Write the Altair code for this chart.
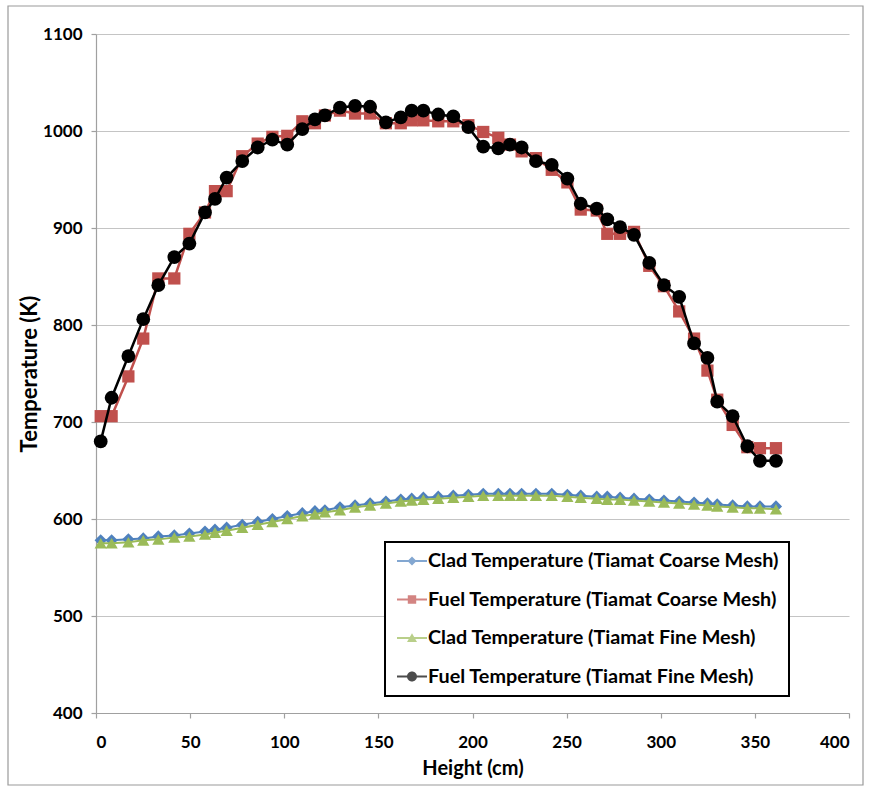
import altair as alt
import pandas as pd

heights = [2.5, 8.3, 17.2, 25.1, 33.1, 41.6, 49.6, 57.9, 63.2, 69.4,
           77.7, 85.9, 93.7, 101.6, 109.6, 116.3, 121.6, 129.6, 137.6, 145.6,
           154.0, 161.9, 167.7, 173.9, 181.8, 189.8, 197.8, 205.7, 213.7, 219.9,
           226.1, 233.7, 242.1, 250.4, 257.5, 266.0, 271.6, 278.4, 285.8, 293.9,
           301.7, 309.8, 317.7, 324.8, 330.0, 338.2, 346.0, 352.7, 361.2]

clad_coarse = [578, 578, 579, 580, 582, 583, 585, 587, 589, 591,
               594, 597, 600, 603, 606, 608, 609, 612, 614, 616,
               618, 620, 621, 622, 623, 624, 625, 626, 626, 626,
               626, 626, 626, 625, 624, 623, 623, 622, 621, 620,
               619, 618, 617, 616, 615, 614, 613, 613, 613]

fuel_coarse = [706, 706, 747, 786, 848, 848, 894, 916, 938, 938,
               974, 987, 994, 995, 1010, 1008, 1016, 1021, 1018, 1018,
               1008, 1008, 1011, 1011, 1010, 1010, 1006, 999, 993, 986,
               979, 972, 960, 947, 919, 918, 894, 894, 896, 861,
               840, 814, 786, 753, 723, 697, 674, 673, 673]

clad_fine = [575, 575, 576, 578, 579, 581, 582, 584, 586, 588,
             591, 594, 597, 600, 603, 605, 607, 609, 612, 614,
             616, 618, 619, 620, 621, 622, 623, 624, 624, 624,
             624, 624, 624, 623, 622, 621, 620, 620, 619, 618,
             617, 616, 615, 614, 613, 612, 611, 611, 610]

fuel_fine = [680, 725, 768, 806, 841, 870, 884, 916, 930, 952,
             969, 983, 991, 986, 1002, 1012, 1016, 1024, 1026, 1025,
             1009, 1014, 1021, 1021, 1017, 1015, 1004, 984, 982, 986,
             983, 969, 965, 951, 925, 920, 909, 901, 893, 864,
             841, 829, 781, 766, 721, 706, 675, 660, 660]

series_names = ["Clad Temperature (Tiamat Coarse Mesh)",
                "Fuel Temperature (Tiamat Coarse Mesh)",
                "Clad Temperature (Tiamat Fine Mesh)",
                "Fuel Temperature (Tiamat Fine Mesh)"]
series_values = [clad_coarse, fuel_coarse, clad_fine, fuel_fine]
colors = ["#4F81BD", "#C0504D", "#9BBB59", "#000000"]
shapes = ["diamond", "square", "triangle-up", "circle"]
sizes = [150, 150, 150, 190]
widths = [2, 2.5, 2, 2.5]

LINE = "M-1.5,-0.1H1.5V0.1H-1.5Z "
legend_paths = [
    LINE + "M0,-0.45L0.45,0L0,0.45L-0.45,0Z",
    LINE + "M-0.42,-0.42H0.42V0.42H-0.42Z",
    LINE + "M0,-0.48L0.5,0.4H-0.5Z",
    LINE + "M0.5,0A0.5,0.5,0,1,1,-0.5,0A0.5,0.5,0,1,1,0.5,0Z",
]

rows = []
for name, vals in zip(series_names, series_values):
    for h, t in zip(heights, vals):
        rows.append({"height": h, "temp": t, "series": name})
df = pd.DataFrame(rows)

FONT = "Lato"

xenc = alt.X("height:Q", scale=alt.Scale(domain=[0, 400], nice=False),
             axis=alt.Axis(title="Height (cm)", values=list(range(0, 401, 50)),
                           grid=False, format="d"))
yenc = alt.Y("temp:Q", scale=alt.Scale(domain=[400, 1100], nice=False, zero=False),
             axis=alt.Axis(title="Temperature (K)", values=list(range(400, 1101, 100)),
                           grid=True, format="d"))

layers = []
for name, col, shp, sz, w in zip(series_names, colors, shapes, sizes, widths):
    base = alt.Chart(df).transform_filter(alt.datum.series == name)
    layers.append(base.mark_line(color=col, strokeWidth=w).encode(x=xenc, y=yenc))
    layers.append(base.mark_point(color=col, shape=shp, size=sz, filled=True, opacity=1)
                  .encode(x=xenc, y=yenc))

legend_layer = alt.Chart(df).mark_point(filled=True, size=0).encode(
    x=xenc, y=yenc,
    color=alt.Color("series:N",
                    scale=alt.Scale(domain=series_names, range=colors),
                    legend=alt.Legend(title=None, orient="none", legendX=289, legendY=508)),
    shape=alt.Shape("series:N",
                    scale=alt.Scale(domain=series_names, range=legend_paths)),
)

border = alt.Chart(alt.Data(values=[{}])).mark_rect(
    fill="white", fillOpacity=0, stroke="#9a9a9a", strokeWidth=1.2
).encode(x=alt.value(-88), x2=alt.value(767), y=alt.value(-28), y2=alt.value(751))

chart = alt.layer(border, *layers, legend_layer).properties(
    width=753, height=679,
    autosize=alt.AutoSizeParams(type="none"),
    padding={"left": 96, "top": 34, "right": 21, "bottom": 74},
    background="white",
).configure_view(stroke=None).configure_axis(
    labelFont=FONT, labelFontWeight="bold", labelFontSize=17, labelColor="#000000",
    titleFont=FONT, titleFontWeight="bold", titleFontSize=20, titleColor="#000000",
    domainColor="#a0a0a0", domainWidth=1.2, tickColor="#a0a0a0", tickWidth=1.2,
    tickSize=5, gridColor="#c4c4c4", gridWidth=1.2,
).configure_axisY(
    labelPadding=9, titlePadding=1, titleFontSize=22,
).configure_axisX(
    labelPadding=16, titlePadding=8,
).configure_legend(
    labelFont=FONT, labelFontWeight="bold", labelFontSize=19.8, labelColor="#000000",
    strokeColor="#000000", strokeWidth=2, fillColor="white",
    padding=9, rowPadding=18.5, symbolSize=400, symbolStrokeWidth=0,
    symbolOffset=8, labelOffset=6, labelLimit=500,
)

chart.save("out.html", embed_options={"renderer": "svg", "actions": False})
